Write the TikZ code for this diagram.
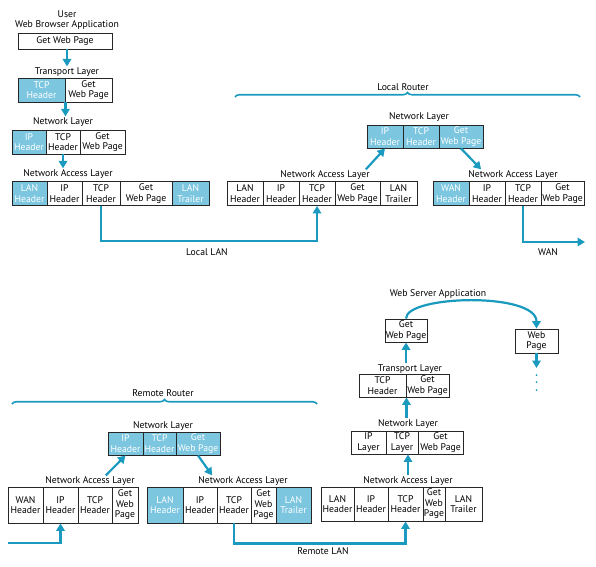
\documentclass[tikz,border=0pt]{standalone}
\usepackage{fontspec}
\setmainfont{PT Sans}
\usetikzlibrary{arrows.meta,decorations.pathreplacing}

\definecolor{hdrblue}{RGB}{124,198,224}
\definecolor{flowblue}{RGB}{26,154,190}

\tikzset{
  cell/.style={draw=black!85, line width=0.9pt, inner xsep=0pt, inner ysep=0pt,
    align=center, font=\fontsize{9.7}{10.5}\selectfont, minimum height=24pt},
  hdr/.style={cell, fill=hdrblue, text=white},
  lbl/.style={font=\fontsize{9.7}{10.5}\selectfont, inner sep=1pt, align=center},
  flow/.style={draw=flowblue, line width=2.2pt, -{Triangle[width=8.5pt,length=7.5pt]}},
  bracket/.style={draw=flowblue, line width=1.6pt, decorate,
    decoration={brace, amplitude=4.5pt}}
}

\begin{document}
\begin{tikzpicture}[x=1pt, y=-1pt]
  \useasboundingbox (0,0) rectangle (596,566);

  % User side
  \node[lbl] (userLbl) at (67,20) {User\\Web Browser Application};
  \node[cell, minimum width=94pt, minimum height=16pt] (getPage) at (65,41) {Get Web Page};
  \node[lbl] (tLbl) at (67,72) {Transport Layer};
  \node[hdr, minimum width=47pt] (tTcp) at (41.5,90) {TCP\\Header};
  \node[cell, minimum width=47pt] (tGet) at (88.5,90) {Get\\Web Page};
  \node[lbl] (nLbl) at (63,122) {Network Layer};
  \node[hdr, minimum width=34pt] (nIp) at (29,142) {IP\\Header};
  \node[cell, minimum width=34pt] (nTcp) at (63,142) {TCP\\Header};
  \node[cell, minimum width=45pt] (nGet) at (102.5,142) {Get\\Web Page};
  \node[lbl] (aLbl) at (68,174) {Network Access Layer};
  \node[hdr, minimum width=35pt] (aLan) at (29.5,193.5) {LAN\\Header};
  \node[cell, minimum width=35pt] (aIp) at (64.5,193.5) {IP\\Header};
  \node[cell, minimum width=38pt] (aTcp) at (101,193.5) {TCP\\Header};
  \node[cell, minimum width=52pt] (aGet) at (146,193.5) {Get\\Web Page};
  \node[hdr, minimum width=37pt] (aTrl) at (190.5,193.5) {LAN\\Trailer};

  \draw[flow] (getPage.south -| tLbl.north) -- (tLbl.north);
  \draw[flow] (tTcp.south east) -- (tTcp.south east |- nLbl.north);
  \draw[flow] (nTcp.south) -- (nTcp.south |- aLbl.north);

  % Local router
  \draw[bracket] (235,97) -- (580,97);
  \node[lbl] (lrLbl) at (403,87) {Local Router};
  \node[lbl] (rnLbl) at (419,117) {Network Layer};
  \node[hdr, minimum width=36pt, minimum height=23pt] (rnIp) at (385,136.5) {IP\\Header};
  \node[hdr, minimum width=36pt, minimum height=23pt] (rnTcp) at (421,136.5) {TCP\\Header};
  \node[hdr, minimum width=44pt, minimum height=23pt] (rnGet) at (461,136.5) {Get\\Web Page};
  \node[lbl] (rLbl) at (325,175) {Network Access Layer};
  \node[cell, minimum width=36pt] (rLan) at (245,193.5) {LAN\\Header};
  \node[cell, minimum width=36pt] (rIp) at (281,193.5) {IP\\Header};
  \node[cell, minimum width=36pt] (rTcp) at (317,193.5) {TCP\\Header};
  \node[cell, minimum width=45pt] (rGet) at (357.5,193.5) {Get\\Web Page};
  \node[cell, minimum width=37pt] (rTrl) at (398.5,193.5) {LAN\\Trailer};
  \node[lbl] (wLbl) at (513,175) {Network Access Layer};
  \node[hdr, minimum width=36pt] (wWan) at (451,193.5) {WAN\\Header};
  \node[cell, minimum width=36pt] (wIp) at (487,193.5) {IP\\Header};
  \node[cell, minimum width=36pt] (wTcp) at (523,193.5) {TCP\\Header};
  \node[cell, minimum width=43pt] (wGet) at (562.5,193.5) {Get\\Web Page};

  \draw[flow] ([xshift=-5pt]rLbl.north east) -- (rnIp.south);
  \draw[flow] (rnGet.south) -- ([xshift=14pt]wLbl.north west);

  \draw[flow] (aTcp.south) -- ++(0,35) -| (rTcp.south);
  \node[lbl] (lanLbl) at (207,252) {Local LAN};
  \coordinate (wanEnd) at (585,242);
  \draw[flow] (wTcp.south) |- (wanEnd);
  \node[lbl] (wanLbl) at (548,252) {WAN};

  % Remote router
  \draw[bracket] (12,404) -- (317,404);
  \node[lbl] (rrLbl) at (163,393) {Remote Router};
  \node[lbl] (bnLbl) at (163,426) {Network Layer};
  \node[hdr, minimum width=35pt, minimum height=23pt] (bnIp) at (125.5,443.5) {IP\\Header};
  \node[hdr, minimum width=33pt, minimum height=23pt] (bnTcp) at (159.5,443.5) {TCP\\Header};
  \node[hdr, minimum width=44pt, minimum height=23pt] (bnGet) at (198,443.5) {Get\\Web Page};
  \node[lbl] (blLbl) at (90,481) {Network Access Layer};
  \node[cell, minimum width=35pt, minimum height=36pt] (blWan) at (25.5,505) {WAN\\Header};
  \node[cell, minimum width=35pt, minimum height=36pt] (blIp) at (60.5,505) {IP\\Header};
  \node[cell, minimum width=34pt, minimum height=36pt] (blTcp) at (95,505) {TCP\\Header};
  \node[cell, minimum width=26pt, minimum height=36pt] (blGet) at (125,505) {Get\\Web\\Page};
  \node[lbl] (brLbl) at (243,481) {Network Access Layer};
  \node[hdr, minimum width=36pt, minimum height=36pt] (brLan) at (165,505) {LAN\\Header};
  \node[cell, minimum width=34pt, minimum height=36pt] (brIp) at (200,505) {IP\\Header};
  \node[cell, minimum width=34pt, minimum height=36pt] (brTcp) at (234,505) {TCP\\Header};
  \node[cell, minimum width=25pt, minimum height=36pt] (brGet) at (263.5,505) {Get\\Web\\Page};
  \node[hdr, minimum width=35pt, minimum height=36pt] (brTrl) at (293.5,505) {LAN\\Trailer};

  \coordinate (wanIn) at (8,543);
  \draw[flow] (wanIn) -| (blIp.south);
  \draw[flow] ([xshift=-30pt]blLbl.north east) -- (bnIp.south);
  \draw[flow] (bnGet.south) -- ([xshift=15pt]brLbl.north west);

  % Web server
  \node[lbl] (appLbl) at (438,294) {Web Server Application};
  \node[cell, minimum width=42pt, minimum height=23pt] (appGet) at (406,330.5) {Get\\Web Page};
  \node[cell, minimum width=43pt, minimum height=24pt] (appWeb) at (536.5,341) {Web\\Page};
  \node[lbl] (stLbl) at (410,369) {Transport Layer};
  \node[cell, minimum width=47pt, minimum height=23pt] (stTcp) at (382.5,385.5) {TCP\\Header};
  \node[cell, minimum width=43pt, minimum height=23pt] (stGet) at (427.5,385.5) {Get\\Web Page};
  \node[lbl] (snLbl) at (408,424) {Network Layer};
  \node[cell, minimum width=35pt, minimum height=23pt] (snIp) at (368.5,442.5) {IP\\Layer};
  \node[cell, minimum width=32pt, minimum height=23pt] (snTcp) at (402,442.5) {TCP\\Layer};
  \node[cell, minimum width=45pt, minimum height=23pt] (snGet) at (440.5,442.5) {Get\\Web Page};
  \node[lbl] (saLbl) at (408,481) {Network Access Layer};
  \node[cell, minimum width=33pt, minimum height=34pt] (saLan) at (337.5,504) {LAN\\Header};
  \node[cell, minimum width=34pt, minimum height=34pt] (saIp) at (371,504) {IP\\Header};
  \node[cell, minimum width=35pt, minimum height=34pt] (saTcp) at (405.5,504) {TCP\\Header};
  \node[cell, minimum width=22pt, minimum height=34pt] (saGet) at (434,504) {Get\\Web\\Page};
  \node[cell, minimum width=37pt, minimum height=34pt] (saTrl) at (463.5,504) {LAN\\Trailer};

  \draw[flow] (brTcp.south) -- ++(0,20) -| (saTcp.south);
  \node[lbl] (rlanLbl) at (323,551) {Remote LAN};
  \draw[flow] (saLbl.north) -- (saLbl.north |- snTcp.south);
  \draw[flow] (stTcp.south east |- snLbl.north) -- (stTcp.south east);
  \draw[flow] (appGet.south |- stLbl.north) -- (appGet.south);
  \draw[flow] (appGet.north) .. controls (406,295) and (536.5,292) .. (appWeb.north);
  \coordinate (dotTop) at (536.5,368);
  \draw[flow] (appWeb.south) -- (dotTop);
  \foreach \y in {375,382,390}
    \fill[flowblue] (536.5,\y) circle (1pt);
\end{tikzpicture}
\end{document}
